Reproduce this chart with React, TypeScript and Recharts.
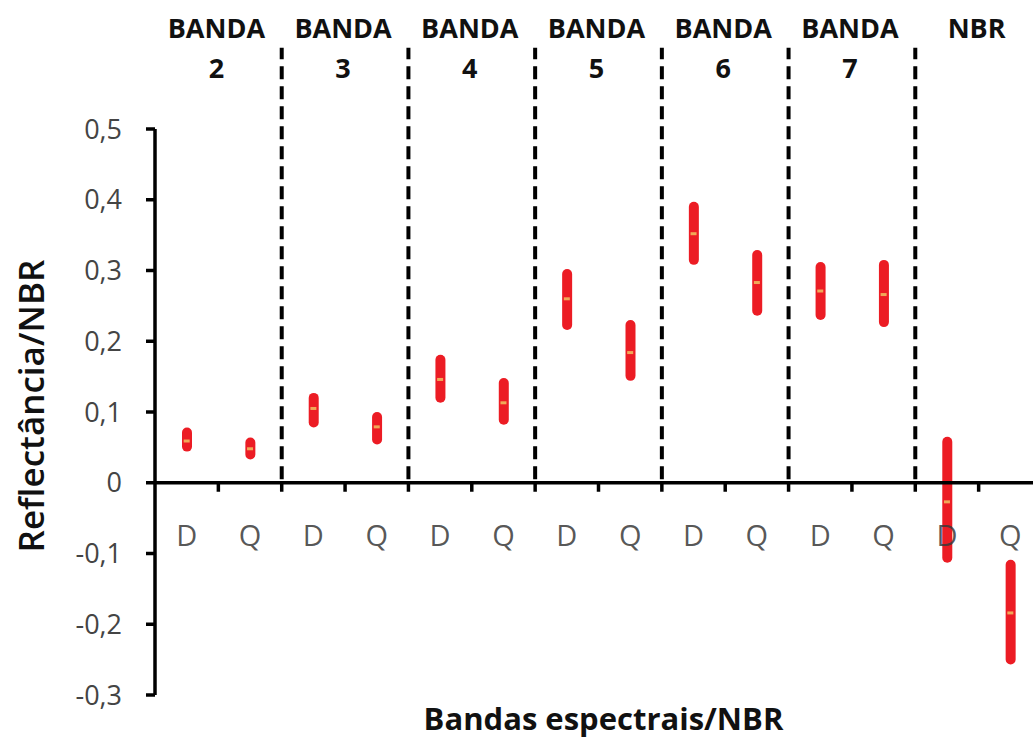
import React from 'react';
import { ComposedChart, Bar, Scatter, XAxis, YAxis, ReferenceLine, Label } from 'recharts';

// D / Q pairs for bands 2..7 and NBR
const categories = ['D', 'Q', 'D', 'Q', 'D', 'Q', 'D', 'Q', 'D', 'Q', 'D', 'Q', 'D', 'Q'];
const lowValues = [0.044, 0.033, 0.078, 0.054, 0.113, 0.082, 0.216, 0.144, 0.308, 0.236, 0.23, 0.22, -0.113, -0.257];
const highValues = [0.078, 0.064, 0.127, 0.1, 0.181, 0.148, 0.302, 0.23, 0.397, 0.329, 0.312, 0.315, 0.065, -0.109];
const meanValues = [0.059, 0.048, 0.105, 0.079, 0.146, 0.113, 0.26, 0.184, 0.352, 0.283, 0.271, 0.266, -0.027, -0.184];

const bandTitles = ['BANDA', 'BANDA', 'BANDA', 'BANDA', 'BANDA', 'BANDA', 'NBR'];
const bandNumbers = ['2', '3', '4', '5', '6', '7', ''];
const yTicks = [-0.3, -0.2, -0.1, 0, 0.1, 0.2, 0.3, 0.4, 0.5];

const LABEL_Y = -0.073; // where the D/Q letters sit
const SEPARATOR_TOP = 0.615;

const data = categories.map((label, i) => ({
  label,
  range: [lowValues[i], highValues[i]],
  mean: meanValues[i],
  labelPos: LABEL_Y,
}));

const bandCenters = bandTitles.map((_, i) => i * 2 + 1);
const separators = [2, 4, 6, 8, 10, 12];
const boundaryTicks = categories.map((_, i) => ({ x: i + 1, y: 0 }));

const FONT = '"Open Sans", "Liberation Sans", sans-serif';

const BandTick = (props: any) => {
  const { x, payload } = props;
  const idx = (payload.value - 1) / 2;
  return (
    <g>
      <text x={x - 2} y={38} textAnchor="middle" fontFamily={FONT} fontWeight={700} fontSize={27} fill="#111">
        {bandTitles[idx]}
      </text>
      <text x={x - 2} y={78} textAnchor="middle" fontFamily={FONT} fontWeight={700} fontSize={27} fill="#111">
        {bandNumbers[idx]}
      </text>
    </g>
  );
};

const MeanMark = (props: any) => {
  const { cx, cy } = props;
  return <rect x={cx - 3} y={cy - 1.5} width={6} height={3} fill="#f0a858" />;
};

const LetterMark = (props: any) => {
  const { cx, cy, payload } = props;
  return (
    <text x={cx} y={cy} textAnchor="middle" dominantBaseline="central" fontFamily={FONT} fontSize={29} fill="#3a3a3a" fillOpacity={0.85}>
      {payload.label}
    </text>
  );
};

const TickMark = (props: any) => {
  const { cx, cy } = props;
  return <line x1={cx} y1={cy} x2={cx} y2={cy + 9} stroke="#000" strokeWidth={3.5} />;
};

const YTitle = (props: any) => {
  const { viewBox } = props;
  const x = viewBox.x + 30;
  const y = viewBox.y + viewBox.height / 2 - 6;
  return (
    <text x={x} y={y} transform={`rotate(-90, ${x}, ${y})`} textAnchor="middle" dominantBaseline="central"
      fontFamily={FONT} fontWeight={600} fontSize={35} fill="#111">
      Reflectância/NBR
    </text>
  );
};

const XTitle = (props: any) => {
  const { viewBox } = props;
  const x = viewBox.x + viewBox.width / 2 + 5;
  const y = viewBox.y + viewBox.height / 2 - 1;
  return (
    <text x={x} y={y} textAnchor="middle" dominantBaseline="central" fontFamily={FONT} fontWeight={700} fontSize={31} fill="#111">
      Bandas espectrais/NBR
    </text>
  );
};

export default function App() {
  return (
    <div style={{ position: 'absolute', left: 0, top: 0, width: 1033, height: 742, overflow: 'hidden', background: '#fff' }}>
      <ComposedChart width={1045} height={742} data={data} margin={{ top: 0, right: 3, left: 0, bottom: 0 }}>
        <XAxis
          xAxisId="cat"
          dataKey="label"
          type="category"
          height={47}
          axisLine={false}
          tickLine={false}
          tick={false}
        >
          <Label content={<XTitle />} />
        </XAxis>
        <XAxis
          xAxisId="num"
          dataKey="x"
          type="number"
          orientation="top"
          domain={[0, 14]}
          allowDataOverflow
          ticks={bandCenters}
          height={129}
          axisLine={false}
          tickLine={false}
          tick={<BandTick />}
        />
        <YAxis
          domain={[-0.3, 0.5]}
          allowDataOverflow
          ticks={yTicks}
          width={155}
          axisLine={{ stroke: '#000', strokeWidth: 3.5 }}
          tickLine={{ stroke: '#000', strokeWidth: 3.5 }}
          tickSize={9}
          tickMargin={24}
          tickFormatter={(v: number) => String(v).replace('.', ',')}
          tick={{ fontFamily: FONT, fontSize: 27, fill: '#444' }}
        >
          <Label content={<YTitle />} />
        </YAxis>

        <ReferenceLine xAxisId="num" y={0} stroke="#000" strokeWidth={3.5} />
        {separators.map((s) => (
          <ReferenceLine
            key={s}
            xAxisId="num"
            segment={[{ x: s, y: 0.005 }, { x: s, y: SEPARATOR_TOP }]}
            ifOverflow="visible"
            stroke="#000"
            strokeWidth={4}
            strokeDasharray="13 7"
          />
        ))}
        <Scatter xAxisId="num" data={boundaryTicks} dataKey="y" shape={<TickMark />} isAnimationActive={false} />

        <Bar xAxisId="cat" dataKey="range" barSize={10} fill="#ec1c24" radius={5} isAnimationActive={false} />
        <Scatter xAxisId="cat" dataKey="mean" shape={<MeanMark />} isAnimationActive={false} />
        <Scatter xAxisId="cat" dataKey="labelPos" shape={<LetterMark />} isAnimationActive={false} />
      </ComposedChart>
    </div>
  );
}
